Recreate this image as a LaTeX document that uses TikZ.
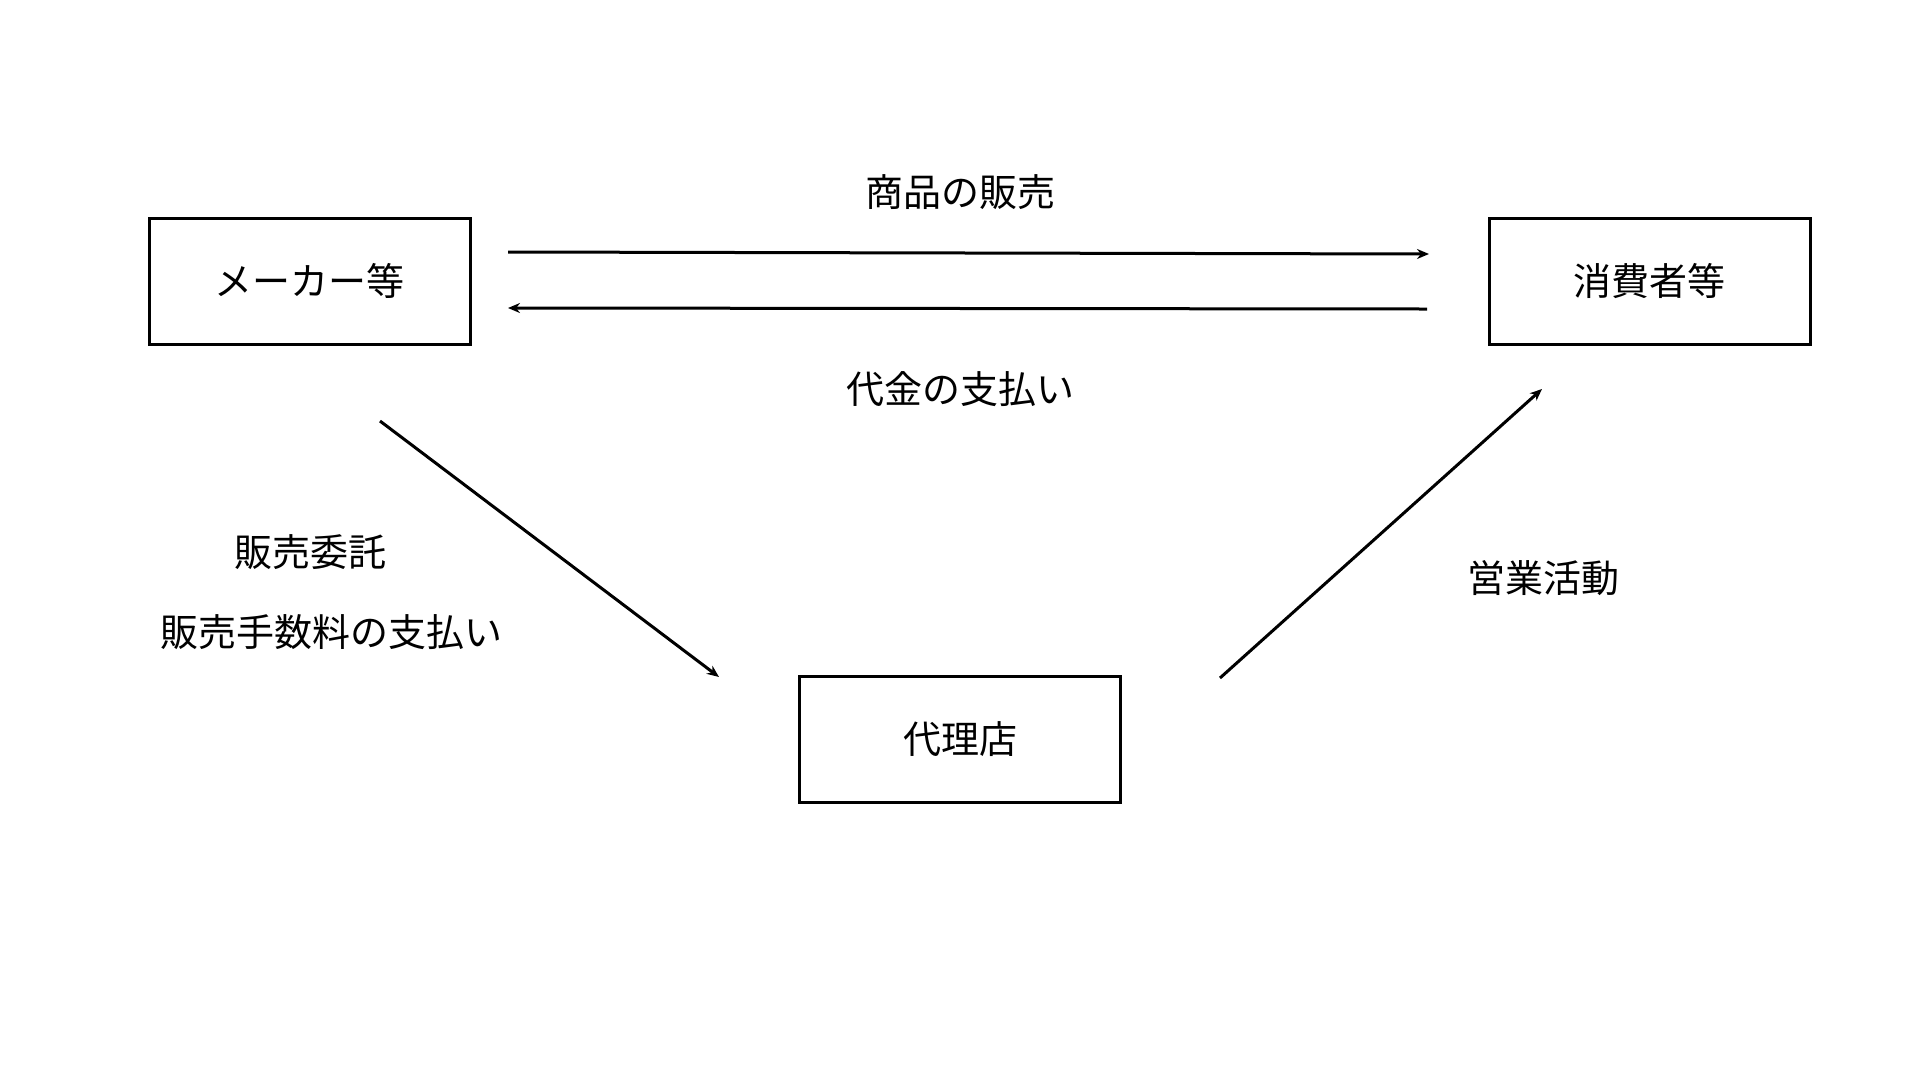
\documentclass[tikz,border=0pt]{standalone}
\usepackage{fontspec}
\setmainfont{Noto Sans CJK JP}
\usetikzlibrary{arrows.meta}
\begin{document}
\begin{tikzpicture}[x=1pt,y=-1pt,
 box/.style={draw,line width=3pt,minimum width=321pt,minimum height=126pt,font=\fontsize{38}{44}\selectfont},
 lbl/.style={font=\fontsize{38}{44}\selectfont},
 arr/.style={line width=3pt,-{Stealth[length=12pt,width=10pt]}}]
\useasboundingbox (0,0) rectangle (1920,1080);
\node[box] (m) at (309.5,281) {メーカー等};
\node[box] (c) at (1649.5,281) {消費者等};
\node[box] (d) at (960,739) {代理店};
\coordinate (a1) at (508,252); \coordinate (a2) at (1429,254);
\coordinate (b1) at (1427,309); \coordinate (b2) at (508,308);
\coordinate (c1) at (380,421); \coordinate (c2) at (719,677);
\coordinate (d1) at (1220,678); \coordinate (d2) at (1542,389);
\draw[arr] (a1) -- (a2);
\draw[arr] (b1) -- (b2);
\draw[arr] (c1) -- (c2);
\draw[arr] (d1) -- (d2);
\node[lbl] (l1) at (960,192) {商品の販売};
\node[lbl] (l2) at (960,389) {代金の支払い};
\node[lbl] (l3) at (310,552) {販売委託};
\node[lbl] (l4) at (331,632) {販売手数料の支払い};
\node[lbl] (l5) at (1543,578) {営業活動};
\end{tikzpicture}
\end{document}
